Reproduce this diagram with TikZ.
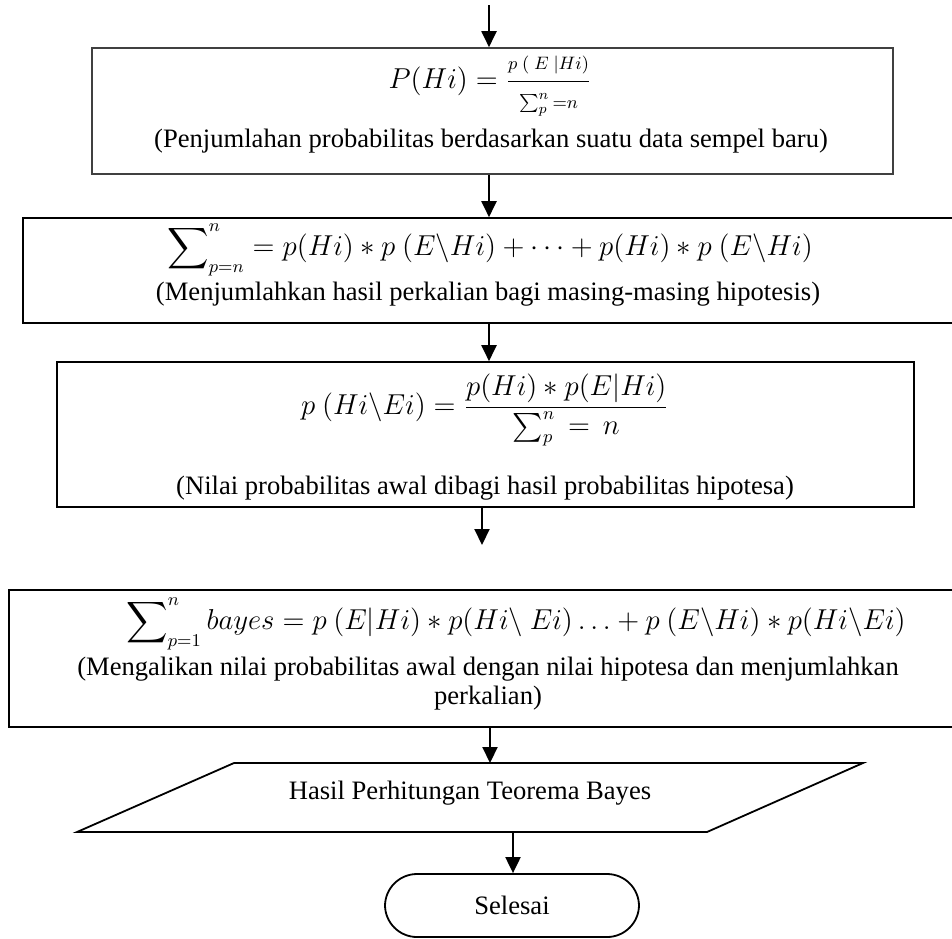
\documentclass[tikz,border=0pt]{standalone}
\usepackage{amsmath}
\usepackage{fontspec}
\setmainfont{Liberation Serif}
\usetikzlibrary{arrows.meta}
\begin{document}
\begin{tikzpicture}[x=0.5pt,y=-0.5pt,
  box/.style={draw=black, line width=0.8pt, rectangle, inner sep=0pt},
  arr/.style={draw=black, line width=1pt, -{Triangle[length=8pt,width=7.5pt]}},
  captxt/.style={font=\fontsize{13.3}{14.5}\selectfont, inner sep=0pt},
  eqtxt/.style={font=\fontsize{13.5}{16}\selectfont, inner sep=0pt}]
\useasboundingbox (0,0) rectangle (952,938);

% axes for the vertical connectors
\coordinate (ax1) at (489,0);
\coordinate (ax2) at (482,0);
\coordinate (ax3) at (490,0);
\coordinate (ax4) at (513,0);
\coordinate (top) at (489,5);

% box 1
\node[box, draw=black!75, minimum width=400.5pt, minimum height=63pt] (b1) at (492.5,111) {};
\node[eqtxt] (f1) at (490,86) {$P(Hi)=\dfrac{\text{\fontsize{9.5}{11}\selectfont$p\ (\ E\ |Hi)$}}{\text{\fontsize{9.5}{11}\selectfont$\sum_p^n{=}n$}}$};
\node[captxt] (c1) at (491,141) {(Penjumlahan probabilitas berdasarkan suatu data sempel baru)};

% box 2 (right side runs off the page)
\node[box, minimum width=466.5pt, minimum height=52.5pt] (b2) at (489.5,270.5) {};
\node[eqtxt] (f2) at (490,250) {$\displaystyle\sum\nolimits_{p=n}^{n} = p(Hi)\ast p\ (E\backslash Hi)+\cdots+p(Hi)\ast p\ (E\backslash Hi)$};
\node[captxt] (c2) at (488,294) {(Menjumlahkan hasil perkalian bagi masing-masing hipotesis)};

% box 3
\node[box, minimum width=428.5pt, minimum height=72.5pt] (b3) at (485.5,434.5) {};
\node[eqtxt] (f3) at (485,410) {$p\ (Hi\backslash Ei)=\dfrac{\text{\fontsize{13.5}{16}\selectfont$p(Hi)\ast p(E|Hi)$}}{\text{\fontsize{13.5}{16}\selectfont$\sum_p^n\,=\,n$}}$};
\node[captxt] (c3) at (485,488) {(Nilai probabilitas awal dibagi hasil probabilitas hipotesa)};

\coordinate (free) at (482,545);

% box 4 (right side runs off the page)
\node[box, minimum width=473.5pt, minimum height=68.5pt] (b4) at (482.5,658.5) {};
\node[eqtxt] (f4) at (516,624) {$\displaystyle\sum\nolimits_{p=1}^{n} bayes = p\ (E|Hi)\ast p(Hi\backslash\ Ei)\ldots+p\ (E\backslash Hi)\ast p(Hi\backslash Ei)$};
\node[captxt, align=center] (c4) at (488,684) {(Mengalikan nilai probabilitas awal dengan nilai hipotesa dan menjumlahkan\\perkalian)};

% parallelogram
\coordinate (pTL) at (234,763);
\coordinate (pTR) at (863,763);
\coordinate (pBR) at (707,832);
\coordinate (pBL) at (77,832);
\draw[line width=0.9pt] (pTL) -- (pTR) -- (pBR) -- (pBL) -- cycle;
\node[captxt] (para) at (470,793) {Hasil Perhitungan Teorema Bayes};

% terminal
\node[draw=black, line width=0.9pt, rounded corners=16pt, minimum width=127pt, minimum height=31.5pt, captxt] (term) at (512,905.5) {Selesai};

% connectors
\draw[arr] (top) -- (top |- b1.north);
\draw[arr] (ax1 |- b1.south) -- (ax1 |- b2.north);
\draw[arr] (ax1 |- b2.south) -- (ax1 |- b3.north);
\draw[arr] (ax2 |- b3.south) -- (free);
\draw[arr] (ax3 |- b4.south) -- (ax3 |- pTL);
\draw[arr] (ax4 |- pBL) -- (ax4 |- term.north);
\end{tikzpicture}
\end{document}
